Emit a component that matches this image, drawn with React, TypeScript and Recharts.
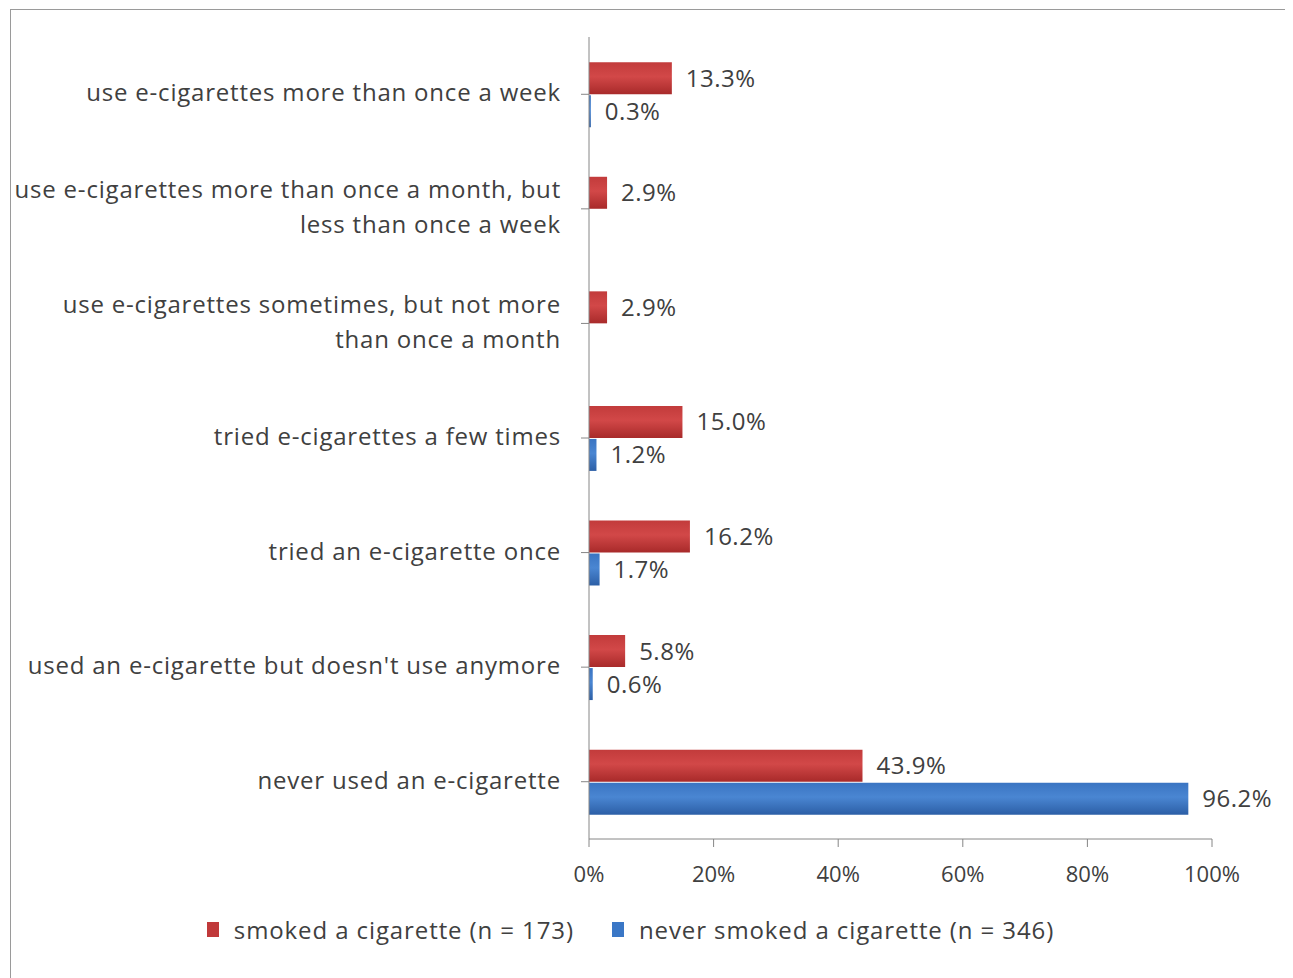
import React from 'react';
import { BarChart, Bar, XAxis, YAxis, Legend, LabelList } from 'recharts';

const categories = [
  'use e-cigarettes more than once a week',
  'use e-cigarettes more than once a month, but\nless than once a week',
  'use e-cigarettes sometimes, but not more\nthan once a month',
  'tried e-cigarettes a few times',
  'tried an e-cigarette once',
  "used an e-cigarette but doesn't use anymore",
  'never used an e-cigarette',
];
const smoked = [13.3, 2.9, 2.9, 15.0, 16.2, 5.8, 43.9];
const neverSmoked = [0.3, 0.0, 0.0, 1.2, 1.7, 0.6, 96.2];
const xTicks = [0, 20, 40, 60, 80, 100];

const seriesNames = {
  smoked: 'smoked a cigarette (n = 173)',
  neverSmoked: 'never smoked a cigarette (n = 346)',
};

const data = categories.map((name, i) => ({
  name,
  smoked: smoked[i],
  neverSmoked: neverSmoked[i],
}));

const FONT = '"Open Sans", "DejaVu Sans", sans-serif';
const TEXT = '#404040';
const AXIS = '#868686';
const RED = '#C0393A';
const BLUE = '#3A77C6';

const CategoryTick = (props: any) => {
  const { x, y, payload } = props;
  const lines: string[] = String(payload.value).split('\n');
  const lh = 35;
  const start = -((lines.length - 1) * lh) / 2;
  return (
    <text
      x={x}
      y={y}
      textAnchor="end"
      fill={TEXT}
      fontSize={24}
      letterSpacing={0.8}
      fontFamily={FONT}
    >
      {lines.map((l, i) => (
        <tspan key={i} x={x} dy={i === 0 ? start + 7 : lh}>
          {l}
        </tspan>
      ))}
    </text>
  );
};

const LegendContent = () => (
  <div
    style={{
      display: 'flex',
      justifyContent: 'center',
      alignItems: 'center',
      fontFamily: FONT,
      fontSize: 24,
      letterSpacing: 0.9,
      color: TEXT,
      gap: 38,
      paddingLeft: 38,
    }}
  >
    {[
      { label: seriesNames.smoked, color: RED },
      { label: seriesNames.neverSmoked, color: BLUE },
    ].map((item) => (
      <span key={item.label} style={{ display: 'flex', alignItems: 'center' }}>
        <span
          style={{
            width: 12,
            height: 15,
            background: item.color,
            marginRight: 15,
            display: 'inline-block',
          }}
        />
        {item.label}
      </span>
    ))}
  </div>
);

const pct = (v: any) => `${Number(v).toFixed(1)}%`;

export default function App() {
  return (
    <div
      style={{
        width: 1277,
        height: 972,
        marginLeft: 2,
        marginTop: 1,
        border: '1px solid #9a9a9a',
        background: '#fff',
      }}
    >
      <BarChart
        width={1277}
        height={972}
        data={data}
        layout="vertical"
        barCategoryGap="22%"
        barGap={1}
        margin={{ top: 27, right: 76, left: 0, bottom: 19 }}
      >
        <defs>
          <linearGradient id="redFill" x1="0" y1="0" x2="0" y2="1">
            <stop offset="0%" stopColor="#C23B3B" />
            <stop offset="45%" stopColor="#D24848" />
            <stop offset="100%" stopColor="#A82A2A" />
          </linearGradient>
          <linearGradient id="blueFill" x1="0" y1="0" x2="0" y2="1">
            <stop offset="0%" stopColor="#3A74C2" />
            <stop offset="45%" stopColor="#4A86D2" />
            <stop offset="100%" stopColor="#2C5FA6" />
          </linearGradient>
        </defs>
        <XAxis
          type="number"
          domain={[0, 100]}
          ticks={xTicks}
          tickFormatter={(v) => `${v}%`}
          stroke={AXIS}
          tickSize={8}
          tickMargin={19}
          height={74}
          tick={{ fill: TEXT, fontSize: 22, fontFamily: FONT }}
        />
        <YAxis
          type="category"
          dataKey="name"
          width={578}
          stroke={AXIS}
          tickSize={8}
          tickMargin={20}
          tick={<CategoryTick />}
          interval={0}
        />
        <Legend verticalAlign="bottom" height={50} content={<LegendContent />} />
        <Bar dataKey="smoked" name={seriesNames.smoked} fill="url(#redFill)" isAnimationActive={false}>
          <LabelList
            dataKey="smoked"
            position="right"
            offset={14}
            formatter={pct}
            fill={TEXT}
            fontSize={24}
            letterSpacing={0.5}
            fontFamily={FONT}
          />
        </Bar>
        <Bar
          dataKey="neverSmoked"
          name={seriesNames.neverSmoked}
          fill="url(#blueFill)"
          isAnimationActive={false}
        >
          <LabelList
            dataKey="neverSmoked"
            position="right"
            offset={14}
            formatter={pct}
            fill={TEXT}
            fontSize={24}
            letterSpacing={0.5}
            fontFamily={FONT}
          />
        </Bar>
      </BarChart>
    </div>
  );
}
